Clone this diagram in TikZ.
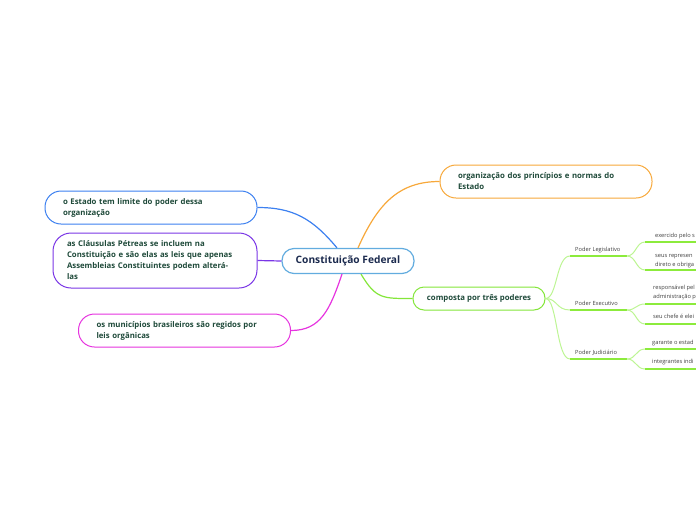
\documentclass[tikz,border=0pt]{standalone}
\usepackage{fontspec}
\setmainfont{Open Sans}
\usetikzlibrary{positioning}
\definecolor{cfblue}{HTML}{62ACDF}
\definecolor{orgorange}{HTML}{F7A83A}
\definecolor{estblue}{HTML}{3C80F0}
\definecolor{clapurple}{HTML}{7A36E6}
\definecolor{munmagenta}{HTML}{E634DF}
\definecolor{compgreen}{HTML}{84E63A}
\definecolor{leafgreen}{HTML}{8CEB3C}
\definecolor{curvegreen}{HTML}{BDF594}
\definecolor{txtgreen}{HTML}{1F4A3A}
\definecolor{txtnavy}{HTML}{1B2A4E}

\begin{document}
\begin{tikzpicture}[x=1pt,y=-1pt,
 root/.style={draw=cfblue,line width=1.2pt,rounded corners=12pt,fill=white,text=txtnavy,
  font=\bfseries\fontsize{10.2}{12}\selectfont,minimum width=132pt,minimum height=25pt},
 topic/.style={draw=#1,line width=1pt,fill=white,text=txtgreen,inner sep=0pt,
  font=\bfseries\fontsize{7.8}{11}\selectfont,text width=176pt,align=left},
 link/.style={draw=#1,line width=1.2pt},
 small/.style={inner sep=0pt,text=black!75,font=\fontsize{5.7}{9.5}\selectfont,align=left},
 underline/.style={leafgreen,line width=2pt},
 twig/.style={curvegreen,line width=1pt}]
\useasboundingbox (0,0) rectangle (696,520);

% main topics
\node[root] (cf) at (348,261) {Constituição Federal};
\node[topic=orgorange,rounded corners=16pt,minimum width=212pt,minimum height=33pt] (org) at (546,181.5)
 {organização dos princípios e normas do\\Estado};
\node[topic=compgreen,rounded corners=11pt,minimum width=132pt,minimum height=23pt,text width=,align=center] (comp) at (479,298.5)
 {composta por três poderes};
\node[topic=estblue,rounded corners=16pt,minimum width=212pt,minimum height=33pt] (est) at (151,207.5)
 {o Estado tem limite do poder dessa\\organização};
\node[topic=clapurple,rounded corners=18pt,minimum width=204pt,minimum height=55pt] (cla) at (155,260.5)
 {as Cláusulas Pétreas se incluem na\\Constituição e são elas as leis que apenas\\Assembleias Constituintes podem alterá-\\las};
\node[topic=munmagenta,rounded corners=16pt,minimum width=212pt,minimum height=33pt] (mun) at (184.5,330.5)
 {os municípios brasileiros são regidos por\\leis orgânicas};

\draw[link=orgorange] ([xshift=10pt]cf.north) .. controls +(20,-45) and +(-40,0) .. (org.west);
\draw[link=estblue] ([xshift=-11pt]cf.north) .. controls +(-25,-30) and +(35,0) .. (est.east);
\draw[link=clapurple] (cf.west) -- (cla.east);
\draw[link=munmagenta] ([xshift=-6pt]cf.south) .. controls +(-12,35) and +(30,0) .. (mun.east);
\draw[link=compgreen] ([xshift=13pt]cf.south) .. controls +(15,25) and +(-30,0) .. (comp.west);

% three powers
\coordinate (leg0) at (570,256); \coordinate (leg1) at (627,256);
\coordinate (exe0) at (570,310); \coordinate (exe1) at (627,310);
\coordinate (jud0) at (570,359); \coordinate (jud1) at (627,359);
\foreach \p in {leg,exe,jud}{
 \draw[twig] (comp.east) .. controls +(12,0) and +(-14,0) .. (\p0);
 \draw[underline] (\p0) -- (\p1);
}
\node[small,anchor=base west] (legT) at (575,251.5) {Poder Legislativo};
\node[small,anchor=base west] (exeT) at (575,305) {Poder Executivo};
\node[small,anchor=base west] (judT) at (575,354) {Poder Judiciário};

% leaves
\coordinate (legA) at (645,242); \coordinate (legB) at (645,270);
\coordinate (exeA) at (645,304); \coordinate (exeB) at (645,324);
\coordinate (judA) at (645,349); \coordinate (judB) at (645,369);
\foreach \p in {leg,exe,jud}{
 \foreach \q in {A,B}{
  \draw[twig] (\p1) .. controls +(9,0) and +(-9,0) .. (\p\q);
  \draw[underline] (\p\q) -- ++(60,0);
 }
}
\node[small,anchor=base west] (legAT) at (655,237) {exercido pelo s};
\node[small,anchor=base west] (legBT) at (655,266.5) {seus represen\\direto e obriga};
\node[small,anchor=base west] (exeAT) at (653,298.5) {responsável pel\\administração p};
\node[small,anchor=base west] (exeBT) at (653,318) {seu chefe é elei};
\node[small,anchor=base west] (judAT) at (652,344) {garante o estad};
\node[small,anchor=base west] (judBT) at (652,363) {integrantes indi};
\end{tikzpicture}
\end{document}
